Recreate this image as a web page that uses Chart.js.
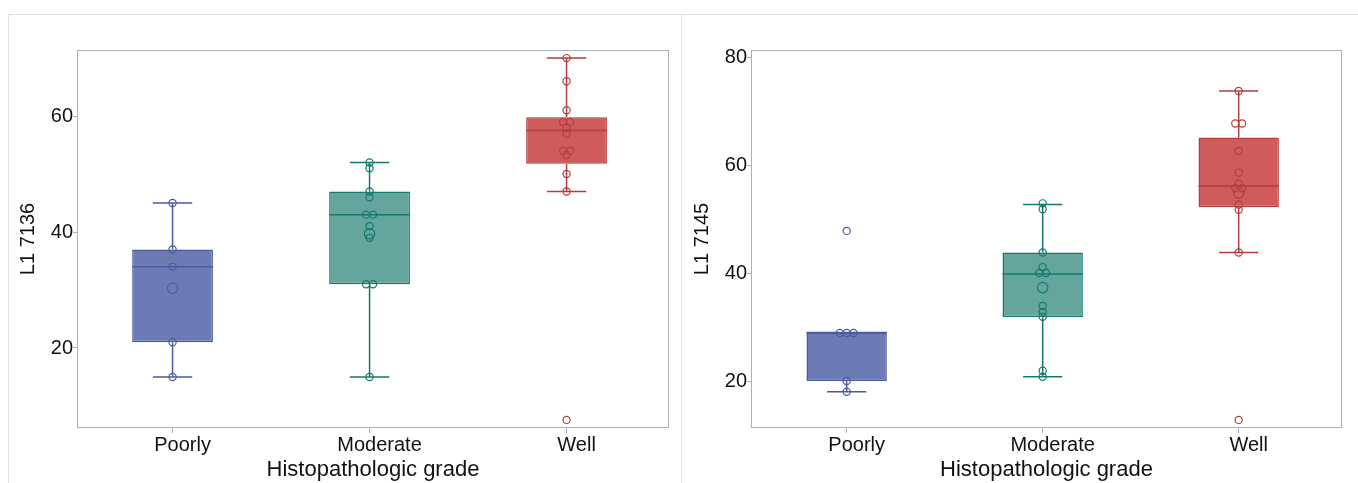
<!DOCTYPE html>
<html>
<head>
<meta charset="utf-8">
<script src="https://cdn.jsdelivr.net/npm/chart.js@4.4.1/dist/chart.umd.min.js"></script>
<style>
  body { margin: 0; background: #fff; width: 1358px; height: 483px; overflow: hidden; position: relative; }
  .frame { position: absolute; left: 8px; top: 14px; width: 1360px; height: 480px; border-top: 1px solid #e1e1e1; border-left: 1px solid #e1e1e1; }
  .divider { position: absolute; left: 681px; top: 14px; width: 1px; height: 470px; background: #e1e1e1; }
  #left { position: absolute; left: 9px; top: 15px; }
  #right { position: absolute; left: 682px; top: 15px; }
</style>
</head>
<body>
<div class="frame"></div>
<div class="divider"></div>
<canvas id="left" width="672" height="468"></canvas>
<canvas id="right" width="676" height="468"></canvas>
<script>
const grades = ['Poorly', 'Moderate', 'Well']

// L1 7136 – box statistics per grade
const min7136 = [15, 15, 47]
const q1_7136 = [21, 31, 51.8]
const med7136 = [34, 43, 57.5]
const q3_7136 = [37, 47, 59.8]
const max7136 = [45, 52, 70]
const yTicks7136 = [20, 40, 60]

// L1 7136 – observations
const obs7136Poorly = [45, 37, 34, 21, 15]
const obs7136Moderate = [52, 51, 47, 46, 43, 43, 41, 39, 31, 31, 15]
const obs7136Well = [70, 66, 61, 59, 59, 58, 57, 54, 54, 53.3, 50, 47, 7.6]
// tied observations, drawn as a bigger circle
const tied7136 = [[30.3], [39.7], []]

// L1 7145 – box statistics per grade
const min7145 = [18, 20.8, 43.8]
const q1_7145 = [20, 31.8, 52.2]
const med7145 = [29, 39.8, 56.1]
const q3_7145 = [29, 43.8, 65.1]
const max7145 = [29, 52.7, 73.7]
const yTicks7145 = [20, 40, 60, 80]

// L1 7145 – observations
const obs7145Poorly = [47.8, 28.9, 28.9, 28.9, 20, 18]
const obs7145Moderate = [52.9, 51.8, 43.8, 41.1, 40, 40, 33.9, 32.8, 31.9, 21.9, 20.8]
const obs7145Well = [73.7, 67.7, 67.7, 62.6, 58.6, 56.6, 55.7, 55.7, 52.7, 51.7, 43.8, 12.8]
const tied7145 = [[], [37.3], [54.8]]

const fills = ['#6d7bb4', '#64a69e', '#d05b5b']
const edges = ['#4b5aa3', '#16786a', '#b23e3e']
const frameColor = '#a9b0b8'
const FONT = '"Liberation Sans", Arial, sans-serif'

// spread identical values side by side
function jitter(values, x) {
  const seen = {}
  const counts = {}
  values.forEach(v => { counts[v] = (counts[v] || 0) + 1 })
  return values.map(v => {
    const i = seen[v] || 0
    seen[v] = i + 1
    return { x: x + (i - (counts[v] - 1) / 2) * 0.035, y: v }
  })
}

function whiskerData(i, lo, q1, med, q3, hi) {
  const x = i + 1
  const cap = 0.1
  const half = 0.205
  const gap = { x: x, y: null }
  return [
    { x: x, y: q3 }, { x: x, y: hi }, gap,
    { x: x, y: q1 }, { x: x, y: lo }, gap,
    { x: x - cap, y: hi }, { x: x + cap, y: hi }, gap,
    { x: x - cap, y: lo }, { x: x + cap, y: lo }, gap,
    { x: x - half, y: med }, { x: x + half, y: med }
  ]
}

const plotFrame = {
  id: 'plotFrame',
  beforeDatasetsDraw(chart) {
    const { ctx, chartArea: a } = chart
    ctx.save()
    ctx.strokeStyle = frameColor
    ctx.lineWidth = 1
    ctx.strokeRect(Math.round(a.left) + 0.5, Math.round(a.top) + 0.5, Math.round(a.width) - 1, Math.round(a.height) - 1)
    ctx.restore()
  }
}

function makeChart(id, p) {
  const datasets = []

  datasets.push({
    type: 'bar',
    data: grades.map((g, i) => ({ x: i + 1, y: [p.q1[i], p.q3[i]] })),
    backgroundColor: fills,
    borderColor: edges,
    borderWidth: 1.5,
    borderSkipped: false,
    barPercentage: 1,
    categoryPercentage: 0.41,
    order: 3
  })

  grades.forEach((g, i) => {
    datasets.push({
      type: 'line',
      data: whiskerData(i, p.min[i], p.q1[i], p.med[i], p.q3[i], p.max[i]),
      borderColor: edges[i],
      borderWidth: 1.5,
      pointRadius: 0,
      spanGaps: false,
      fill: false,
      order: 2
    })
    datasets.push({
      type: 'scatter',
      data: jitter(p.obs[i], i + 1),
      borderColor: edges[i],
      backgroundColor: 'rgba(0,0,0,0)',
      borderWidth: 1.2,
      pointRadius: 3.6,
      order: 1
    })
    datasets.push({
      type: 'scatter',
      data: p.tied[i].map(v => ({ x: i + 1, y: v })),
      borderColor: edges[i],
      backgroundColor: 'rgba(0,0,0,0)',
      borderWidth: 1.2,
      pointRadius: 5.2,
      order: 1
    })
  })

  return new Chart(document.getElementById(id), {
    type: 'bar',
    data: { datasets },
    options: {
      responsive: false,
      animation: false,
      events: [],
      layout: { padding: { left: 0, right: p.rightPad, top: 35, bottom: 0 } },
      plugins: { legend: { display: false }, tooltip: { enabled: false } },
      scales: {
        x: {
          type: 'linear',
          min: p.xMin,
          max: p.xMax,
          offset: false,
          afterBuildTicks: s => { s.ticks = grades.map((g, i) => ({ value: i + 1 })) },
          afterFit: s => { s.height = 55 },
          border: { display: false },
          grid: { offset: false, drawOnChartArea: false, drawTicks: true, tickLength: 5, color: frameColor },
          ticks: {
            callback: v => grades[v - 1],
            color: '#111',
            font: { family: FONT, size: 20 },
            padding: 0,
            labelOffset: 10,
            maxRotation: 0
          },
          title: {
            display: true,
            text: 'Histopathologic grade',
            color: '#111',
            font: { family: FONT, size: 22, lineHeight: 1.15 },
            padding: { top: 0, bottom: 0 }
          }
        },
        y: {
          min: p.yMin,
          max: p.yMax,
          afterBuildTicks: s => { s.ticks = p.yTicks.map(v => ({ value: v })) },
          afterFit: s => { s.width = p.yWidth },
          border: { display: false },
          grid: { drawOnChartArea: false, drawTicks: true, tickLength: 4, color: frameColor },
          ticks: { color: '#111', font: { family: FONT, size: 20 }, padding: 0 },
          title: {
            display: true,
            text: p.title,
            color: '#111',
            font: { family: FONT, size: 20, lineHeight: 1.2 },
            padding: { top: p.titlePad, bottom: 0 }
          }
        }
      }
    },
    plugins: [plotFrame]
  })
}

makeChart('left', {
  title: 'L1 7136',
  min: min7136, q1: q1_7136, med: med7136, q3: q3_7136, max: max7136,
  obs: [obs7136Poorly, obs7136Moderate, obs7136Well],
  tied: tied7136,
  yTicks: yTicks7136,
  yMin: 6.2, yMax: 71.4,
  xMin: 0.515, xMax: 3.52,
  yWidth: 68, rightPad: 12, titlePad: 7
})

makeChart('right', {
  title: 'L1 7145',
  min: min7145, q1: q1_7145, med: med7145, q3: q3_7145, max: max7145,
  obs: [obs7145Poorly, obs7145Moderate, obs7145Well],
  tied: tied7145,
  yTicks: yTicks7145,
  yMin: 11.3, yMax: 81.3,
  xMin: 0.512, xMax: 3.527,
  yWidth: 69, rightPad: 16, titlePad: 8
})
</script>
</body>
</html>
